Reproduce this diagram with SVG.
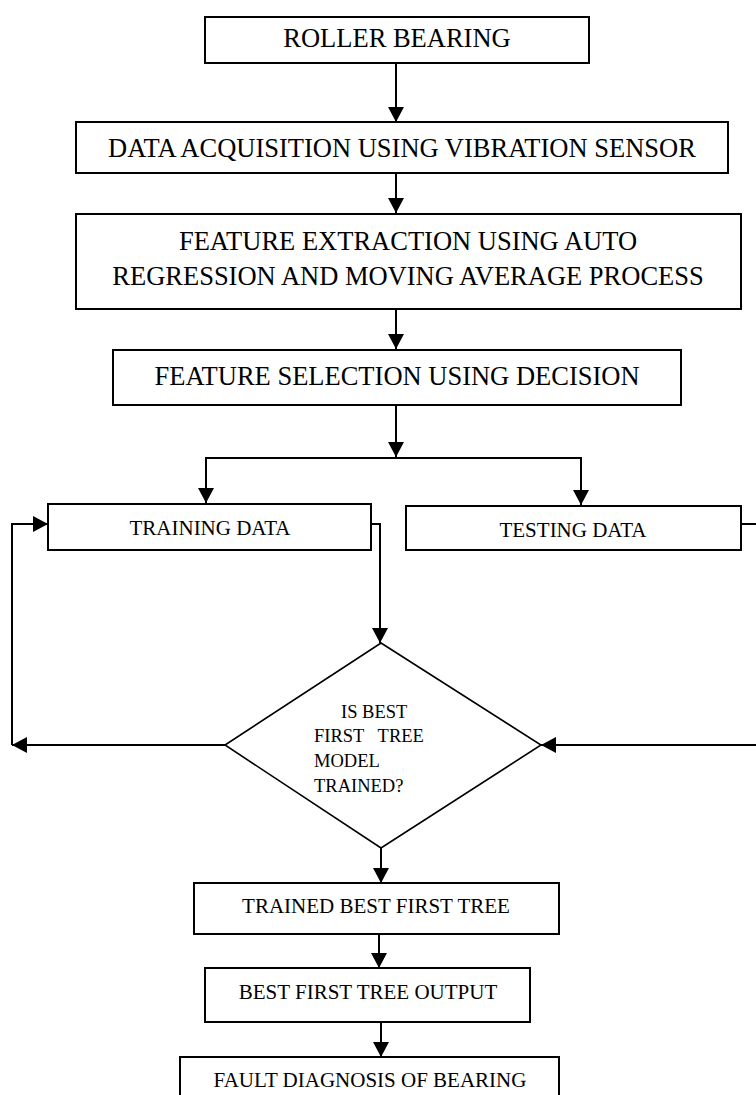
<svg xmlns="http://www.w3.org/2000/svg" width="756" height="1095" viewBox="0 0 756 1095">
<style>
.box{fill:#fff;stroke:#000;stroke-width:2}
.dia{fill:#fff;stroke:#000;stroke-width:1.6}
.t{font-family:"Liberation Serif","Times New Roman",serif;fill:#000;text-anchor:middle}
.big{font-size:26.5px}
.sm{font-size:21px}
.dt{font-family:"Liberation Serif","Times New Roman",serif;fill:#000;font-size:18.5px;white-space:pre}
.c{fill:none;stroke:#000;stroke-width:2}
</style>
<defs>
<marker id="ah" markerUnits="userSpaceOnUse" markerWidth="16" markerHeight="16" refX="15" refY="8" orient="auto">
<path d="M0,0 L15,8 L0,16 Z" fill="#000"/>
</marker>
</defs>
<rect width="756" height="1095" fill="#fff"/>
<g id="connectors">
<line class="c" x1="396" y1="63" x2="396" y2="122" marker-end="url(#ah)"/>
<line class="c" x1="396" y1="173" x2="396" y2="213" marker-end="url(#ah)"/>
<line class="c" x1="396" y1="309" x2="396" y2="349" marker-end="url(#ah)"/>
<line class="c" x1="396" y1="405" x2="396" y2="457" marker-end="url(#ah)"/>
<line class="c" x1="205" y1="458" x2="582" y2="458"/>
<line class="c" x1="206" y1="457" x2="206" y2="503" marker-end="url(#ah)"/>
<line class="c" x1="581" y1="457" x2="581" y2="505" marker-end="url(#ah)"/>
<polyline class="c" points="371,524 380,524 380,643" marker-end="url(#ah)"/>
<polyline class="c" points="741,524 756,524"/>
<line class="c" x1="756" y1="745" x2="541" y2="745" marker-end="url(#ah)"/>
<line class="c" x1="225" y1="745" x2="12" y2="745" marker-end="url(#ah)"/>
<polyline class="c" points="12,745 12,524 48,524" marker-end="url(#ah)"/>
<line class="c" x1="381" y1="848" x2="381" y2="883" marker-end="url(#ah)"/>
<line class="c" x1="379" y1="934" x2="379" y2="968" marker-end="url(#ah)"/>
<line class="c" x1="381" y1="1022" x2="381" y2="1057" marker-end="url(#ah)"/>
</g>
<g id="roller">
<rect class="box" x="205" y="17" width="384" height="46"/>
<text class="t big" x="397" y="47">ROLLER BEARING</text>
</g>
<g id="acquisition">
<rect class="box" x="76" y="122" width="652" height="51"/>
<text class="t big" x="402" y="157">DATA ACQUISITION USING VIBRATION SENSOR</text>
</g>
<g id="extraction">
<rect class="box" x="76" y="214" width="665" height="95"/>
<text class="t big" x="408" y="250">FEATURE EXTRACTION USING AUTO</text>
<text class="t big" x="408" y="285">REGRESSION AND MOVING AVERAGE PROCESS</text>
</g>
<g id="selection">
<rect class="box" x="113" y="350" width="568" height="55"/>
<text class="t big" x="397" y="385">FEATURE SELECTION USING DECISION</text>
</g>
<g id="training">
<rect class="box" x="48" y="504" width="323" height="46"/>
<text class="t sm" x="210" y="535">TRAINING DATA</text>
</g>
<g id="testing">
<rect class="box" x="406" y="506" width="335" height="44"/>
<text class="t sm" x="573" y="537">TESTING DATA</text>
</g>
<g id="decision">
<polygon class="dia" points="381,643 541,745 381,848 225,745"/>
<text class="dt" x="341" y="718">IS BEST</text>
<text class="dt" x="314" y="742" xml:space="preserve">FIRST   TREE</text>
<text class="dt" x="314" y="767">MODEL</text>
<text class="dt" x="314" y="792">TRAINED?</text>
</g>
<g id="trained">
<rect class="box" x="194" y="883" width="365" height="51"/>
<text class="t sm" x="376" y="913">TRAINED BEST FIRST TREE</text>
</g>
<g id="output">
<rect class="box" x="205" y="968" width="325" height="54"/>
<text class="t sm" x="368" y="999">BEST FIRST TREE OUTPUT</text>
</g>
<g id="fault">
<rect class="box" x="180" y="1057" width="379" height="60"/>
<text class="t sm" x="370" y="1087">FAULT DIAGNOSIS OF BEARING</text>
</g>
</svg>
